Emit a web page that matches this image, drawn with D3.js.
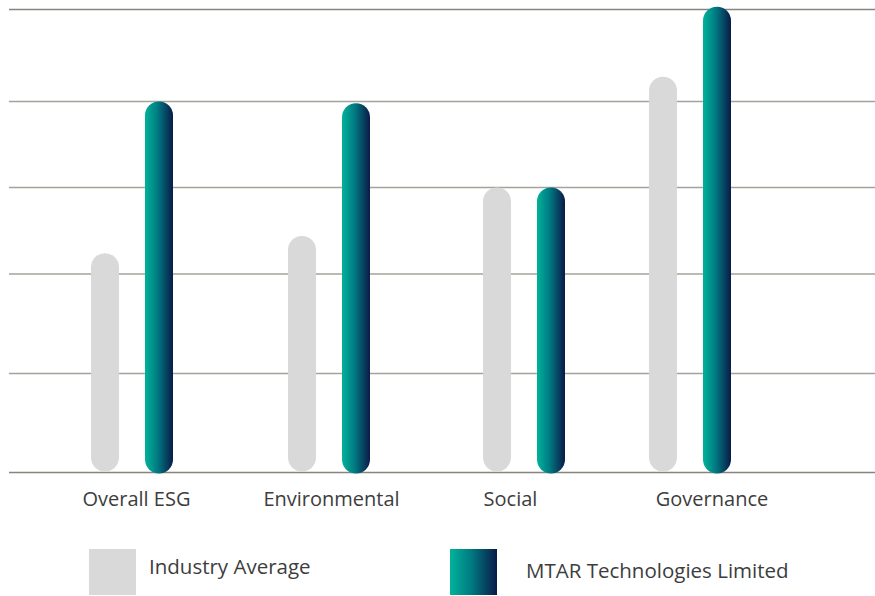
<!DOCTYPE html>
<html>
<head>
<meta charset="utf-8">
<script src="https://cdn.jsdelivr.net/npm/d3@7"></script>
<style>
  html, body { margin: 0; padding: 0; background: #fff; }
  svg { display: block; font-family: "Open Sans", "Noto Sans", sans-serif; }
</style>
</head>
<body>
<div id="chart"></div>
<script>
// ESG scores, industry vs company
const categories = ['Overall ESG', 'Environmental', 'Social', 'Governance'];
const industryAvg = [2.24, 2.44, 3.0, 4.27];
const mtarScores = [4.0, 3.98, 3.0, 5.03];
const gridTicks = [0, 1, 2, 3, 4, 5];
const seriesNames = ['Industry Average', 'MTAR Technologies Limited'];

const width = 875, height = 596;

const svg = d3.select('#chart')
    .append('svg')
    .attr('width', width)
    .attr('height', height);

// gradient for company bars
const defs = svg.append('defs');
const grad = defs.append('linearGradient')
    .attr('id', 'tealNavy')
    .attr('x1', '0%').attr('x2', '100%')
    .attr('y1', '0%').attr('y2', '0%');
grad.append('stop').attr('offset', '0%').attr('stop-color', '#00b39b');
grad.append('stop').attr('offset', '45%').attr('stop-color', '#007a82');
grad.append('stop').attr('offset', '100%').attr('stop-color', '#0a1a48');

// gridlines in the original are not evenly spaced
const y = d3.scaleLinear()
    .domain(gridTicks)
    .range([472.5, 373.5, 274, 187.5, 101.5, 9.5]);

// group centres (uneven in the source layout)
const xCenter = d3.scaleLinear()
    .domain([0, 1, 2, 3])
    .range([132, 329, 524, 690]);

// label centres don't line up with the bar groups either
const xLabel = d3.scaleLinear()
    .domain([0, 1, 2, 3])
    .range([136.5, 331.5, 510.5, 712]);

const barW = 28;
const offset = 27;

// gridlines
svg.append('g')
    .selectAll('line')
    .data(gridTicks)
    .join('line')
    .attr('x1', 9)
    .attr('x2', width)
    .attr('y1', d => y(d))
    .attr('y2', d => y(d))
    .attr('stroke', d => (d === 0 || d === 5) ? '#85857c' : '#a3a39a')
    .attr('stroke-width', 1.3);

const bars = svg.append('g');

bars.selectAll('rect.industry')
    .data(industryAvg)
    .join('rect')
    .attr('class', 'industry')
    .attr('x', (d, i) => xCenter(i) - offset - barW / 2)
    .attr('y', d => y(d))
    .attr('width', barW)
    .attr('height', d => y(0) - y(d) - 1)
    .attr('rx', barW / 2)
    .attr('fill', '#d9d9d9');

bars.selectAll('rect.mtar')
    .data(mtarScores)
    .join('rect')
    .attr('class', 'mtar')
    .attr('x', (d, i) => xCenter(i) + offset - barW / 2)
    .attr('y', d => y(d))
    .attr('width', barW)
    .attr('height', d => y(0) - y(d) + 1)
    .attr('rx', barW / 2)
    .attr('fill', 'url(#tealNavy)');

// category labels
svg.append('g')
    .selectAll('text')
    .data(categories)
    .join('text')
    .attr('x', (d, i) => xLabel(i))
    .attr('y', 506)
    .attr('text-anchor', 'middle')
    .style('font-size', '20px')
    .style('fill', '#3d3d3d')
    .text(d => d);

// legend
const legend = svg.append('g');
const legendItems = [
    { name: seriesNames[0], fill: '#d9d9d9', x: 89, tx: 149, ty: 574 },
    { name: seriesNames[1], fill: 'url(#tealNavy)', x: 450, tx: 526, ty: 578 }
];
legend.selectAll('rect')
    .data(legendItems)
    .join('rect')
    .attr('x', d => d.x)
    .attr('y', 549)
    .attr('width', 47)
    .attr('height', 46)
    .attr('fill', d => d.fill);
legend.selectAll('text')
    .data(legendItems)
    .join('text')
    .attr('x', d => d.tx)
    .attr('y', d => d.ty)
    .style('font-size', '20.5px')
    .style('fill', '#3d3d3d')
    .text(d => d.name);
</script>
</body>
</html>
